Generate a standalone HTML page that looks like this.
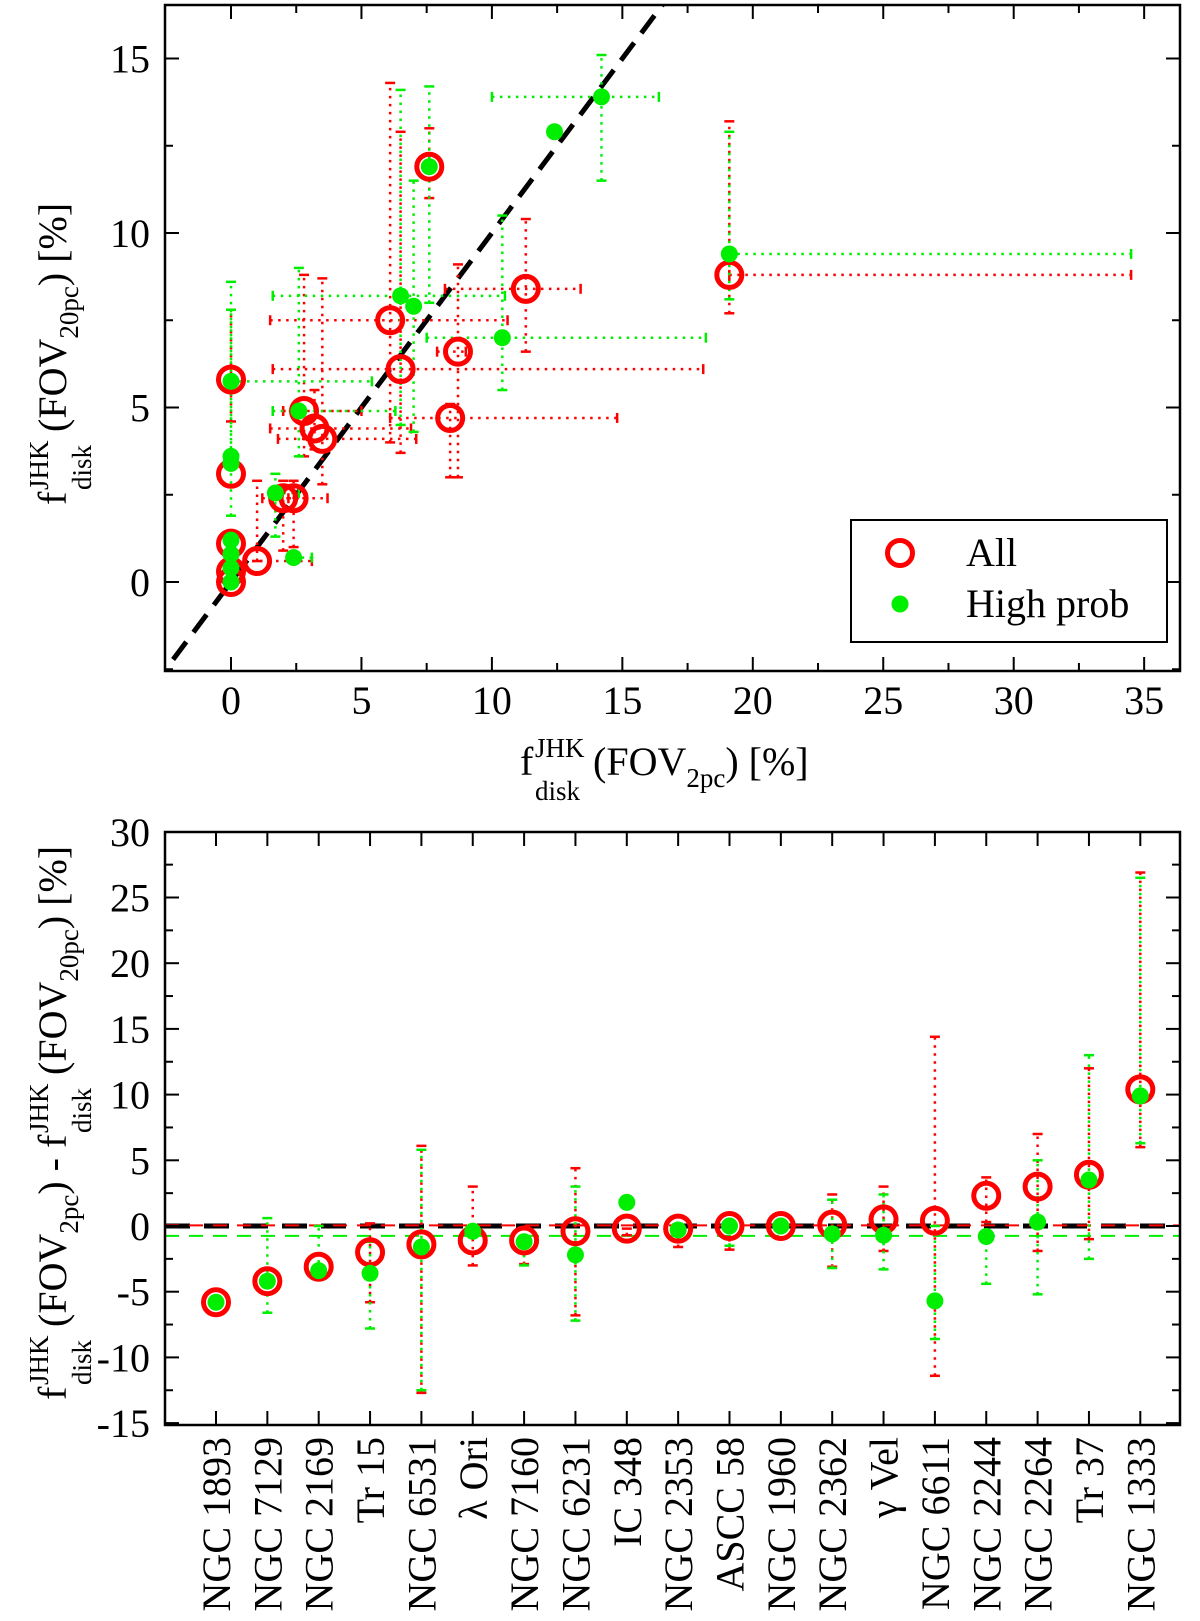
<!DOCTYPE html>
<html><head><meta charset="utf-8">
<style>
html,body{margin:0;padding:0;background:#fff;}
svg{display:block;font-family:"Liberation Serif",serif;}
</style></head>
<body>
<svg id="chart" width="1200" height="1621" viewBox="0 0 1200 1621" xmlns="http://www.w3.org/2000/svg">
  <g id="topPanel"></g>
  <g id="botPanel"></g>

  <g fill="#000">
    <text x="520" y="775" font-size="40">f</text>
    <text x="535" y="757" font-size="27">JHK</text>
    <text x="535" y="800" font-size="27">disk</text>
    <text x="593" y="775" font-size="40">(FOV<tspan font-size="27" dy="12">2pc</tspan><tspan dy="-12">) [%]</tspan></text>
  </g>
  <g transform="translate(66,338) rotate(-90)" fill="#000">
    <text x="-167" y="0" font-size="40">f</text>
    <text x="-152" y="-18" font-size="27">JHK</text>
    <text x="-152" y="25" font-size="27">disk</text>
    <text x="-94" y="0" font-size="40">(FOV<tspan font-size="27" dy="12">20pc</tspan><tspan dy="-12">) [%]</tspan></text>
  </g>
  <g transform="translate(66,1123) rotate(-90)" fill="#000">
    <text x="-277" y="0" font-size="40">f</text>
    <text x="-262" y="-18" font-size="27">JHK</text>
    <text x="-262" y="25" font-size="27">disk</text>
    <text x="-204" y="0" font-size="40">(FOV<tspan font-size="27" dy="12">2pc</tspan><tspan dy="-12">) - f</tspan></text>
    <text x="-10" y="-18" font-size="27">JHK</text>
    <text x="-10" y="25" font-size="27">disk</text>
    <text x="48" y="0" font-size="40">(FOV<tspan font-size="27" dy="12">20pc</tspan><tspan dy="-12">) [%]</tspan></text>
  </g>

  <g>
    <rect x="851" y="520" width="316" height="122" fill="#fff" stroke="#000" stroke-width="2"/>
    <g>
      <circle cx="900" cy="553" r="12.5" fill="none" stroke="#ff0000" stroke-width="5"/>
      <text x="966" y="566" font-size="40">All</text>
    </g>
    <g>
      <circle cx="900" cy="604" r="8.5" fill="#00ee00"/>
      <text x="966" y="617" font-size="40">High prob</text>
    </g>
  </g>
</svg>
<script>
const allX   = [0, 0, 0, 0, 0, 1.0, 2.0, 2.4, 2.8, 3.2, 3.5, 6.5, 8.7, 8.4, 6.1, 7.6, 11.3, 19.1];
const allY   = [0, 0.3, 1.1, 3.1, 5.8, 0.6, 2.4, 2.4, 4.9, 4.4, 4.1, 6.1, 6.6, 4.7, 7.5, 11.9, 8.4, 8.8];
const allXlo = [0, 0, 0, 0, 0, 0.5, 1.2, 2.2, 2.0, 1.5, 1.8, 1.6, 7.9, 6.1, 1.5, 7.6, 8.2, 19.1];
const allXhi = [0, 0, 0, 0, 0, 3.1, 2.9, 3.7, 5.0, 6.9, 7.1, 18.1, 9.0, 14.8, 10.6, 7.6, 13.4, 34.5];
const allYlo = [0, 0.3, 1.1, 3.1, 4.6, 0.6, 0.9, 1.0, 3.6, 3.8, 2.8, 3.7, 3.0, 3.0, 4.0, 11.0, 6.6, 7.7];
const allYhi = [0, 0.3, 1.1, 3.1, 7.8, 2.9, 2.9, 2.9, 8.8, 5.5, 8.7, 12.9, 9.1, 5.1, 14.3, 13.0, 10.4, 13.2];

const hpX   = [0, 0, 0, 0, 0, 0, 0, 1.7, 2.4, 2.6, 6.5, 7.0, 7.6, 10.4, 12.4, 14.2, 19.1];
const hpY   = [0, 0.4, 0.8, 1.2, 3.4, 3.6, 5.75, 2.55, 0.7, 4.9, 8.2, 7.9, 11.9, 7.0, 12.9, 13.9, 9.4];
const hpXlo = [0, 0, 0, 0, 0, 0, 0, 1.7, 2.4, 1.6, 1.6, 7.0, 7.6, 7.5, 12.4, 10.0, 19.1];
const hpXhi = [0, 0, 0, 0, 0, 0, 5.4, 2.6, 3.1, 6.3, 10.5, 7.0, 7.6, 18.2, 12.4, 16.4, 34.5];
const hpYlo = [0, 0.4, 0.8, 1.2, 1.9, 3.6, 3.6, 1.3, 0.7, 3.6, 4.5, 4.3, 8.0, 5.5, 12.9, 11.5, 8.1];
const hpYhi = [0, 0.4, 0.8, 1.2, 7.8, 3.6, 8.6, 3.1, 0.7, 9.0, 14.1, 11.5, 14.2, 10.5, 12.9, 15.1, 12.9];

const topXTicks = [0, 5, 10, 15, 20, 25, 30, 35];
const topYTicks = [0, 5, 10, 15];

const clusters = ["NGC 1893","NGC 7129","NGC 2169","Tr 15","NGC 6531","λ Ori","NGC 7160","NGC 6231","IC 348","NGC 2353","ASCC 58","NGC 1960","NGC 2362","γ Vel","NGC 6611","NGC 2244","NGC 2264","Tr 37","NGC 1333"];
const redDiff   = [-5.8, -4.2, -3.1, -2.0, -1.4, -1.1, -1.1, -0.4, -0.2, -0.2, 0.0, 0.0, 0.1, 0.5, 0.4, 2.3, 3.0, 3.9, 10.4];
const redLo     = [-5.8, -4.2, -3.1, -5.8, -12.7, -3.0, -2.9, -6.8, -0.7, -1.6, -1.8, 0.0, -3.1, -1.9, -11.4, 0.3, -1.9, -1.0, 6.0];
const redHi     = [-5.8, -4.2, -3.1, 0.2, 6.1, 3.0, -1.1, 4.4, -0.2, -0.2, 0.0, 0.0, 2.4, 3.0, 14.4, 3.7, 7.0, 12.0, 26.9];
const greenDiff = [-5.8, -4.2, -3.4, -3.6, -1.6, -0.4, -1.2, -2.2, 1.8, -0.3, 0.0, 0.0, -0.6, -0.7, -5.7, -0.8, 0.3, 3.5, 9.9];
const greenLo   = [-5.8, -6.6, -3.4, -7.8, -12.5, -0.4, -3.0, -7.2, 1.8, -1.2, -1.5, 0.0, -3.2, -3.3, -8.6, -4.4, -5.2, -2.5, 6.3];
const greenHi   = [-5.8, 0.6, 0.0, -1.2, 5.8, -0.4, -1.2, 3.0, 1.8, -0.3, 0.0, 0.0, 2.0, 2.4, 0.0, -0.8, 5.0, 13.0, 26.5];
const redMean   = [0.05];
const greenMean = [-0.75];
const botYTicks = [-15, -10, -5, 0, 5, 10, 15, 20, 25, 30];

const NS = "http://www.w3.org/2000/svg";
const RED = "#ff0000", GREEN = "#00ee00";
function mk(parent, tag, attrs) {
  const el = document.createElementNS(NS, tag);
  for (const k in attrs) el.setAttribute(k, attrs[k]);
  parent.appendChild(el);
  return el;
}

const T = {l:165, r:1180, t:5, b:671};
function X(v){ return 231 + 26.09 * v; }
function Y(v){ return 582 - 34.9 * v; }
const topG = document.getElementById('topPanel');

const defs = mk(document.getElementById('chart'), 'defs', {});
const cp1 = mk(defs, 'clipPath', {id:'clipTop'});
mk(cp1, 'rect', {x:T.l, y:T.t, width:T.r-T.l, height:T.b-T.t});
const cp2 = mk(defs, 'clipPath', {id:'clipBot'});
mk(cp2, 'rect', {x:165, y:832, width:1015, height:593});

const topPlot = mk(topG, 'g', {'clip-path':'url(#clipTop)'});

const diag = mk(topPlot, 'line', {x1:X(-3), y1:Y(-3), x2:X(17), y2:Y(17), stroke:'#000', 'stroke-width':5, 'stroke-dasharray':'22,12'});



function errV(g, x, lo, hi, col, Y_, cap) {
  if (lo === hi) return;
  const l = mk(g, 'line', {x1:x, y1:Y_(lo), x2:x, y2:Y_(hi), stroke:col, 'stroke-width':2.5, 'stroke-dasharray':'2.5,5.5'});
  
  
  [lo, hi].forEach(v => {
    const c = mk(g, 'line', {x1:x-cap, y1:Y_(v), x2:x+cap, y2:Y_(v), stroke:col, 'stroke-width':2.5});
    
    
  });
}
function errH(g, y, lo, hi, col, cap) {
  if (lo === hi) return;
  const l = mk(g, 'line', {x1:X(lo), y1:y, x2:X(hi), y2:y, stroke:col, 'stroke-width':2.5, 'stroke-dasharray':'2.5,5.5'});
  
  
  [lo, hi].forEach(v => {
    const c = mk(g, 'line', {x1:X(v), y1:y-cap, x2:X(v), y2:y+cap, stroke:col, 'stroke-width':2.5});
    
    
  });
}

for (let i = 0; i < allX.length; i++) {
  errV(topPlot, X(allX[i]), allYlo[i], allYhi[i], RED, Y, 5);
  errH(topPlot, Y(allY[i]), allXlo[i], allXhi[i], RED, 5);
}
for (let i = 0; i < hpX.length; i++) {
  errV(topPlot, X(hpX[i]), hpYlo[i], hpYhi[i], GREEN, Y, 5);
  errH(topPlot, Y(hpY[i]), hpXlo[i], hpXhi[i], GREEN, 5);
}
for (let i = 0; i < allX.length; i++) {
  const c = mk(topPlot, 'circle', {cx:X(allX[i]), cy:Y(allY[i]), r:12.5, fill:'none', stroke:RED, 'stroke-width':5});
  
  
}
for (let i = 0; i < hpX.length; i++) {
  const c = mk(topPlot, 'circle', {cx:X(hpX[i]), cy:Y(hpY[i]), r:8.5, fill:GREEN});
  
  
}

const tf = mk(topG, 'rect', {x:T.l, y:T.t, width:T.r-T.l, height:T.b-T.t, fill:'none', stroke:'#000', 'stroke-width':2.5});


for (let v = -2.5; v <= 36.4; v += 2.5) {
  const major = Math.abs(v % 5) < 1e-6;
  const len = major ? 14 : 8;
  const x = X(v);
  if (x < T.l + 1 || x > T.r - 1) continue;
  const t1 = mk(topG, 'line', {x1:x, y1:T.b, x2:x, y2:T.b-len, stroke:'#000', 'stroke-width':2});
  
  
  const t2 = mk(topG, 'line', {x1:x, y1:T.t, x2:x, y2:T.t+len, stroke:'#000', 'stroke-width':2});
  
  
}
for (let v = -2.5; v <= 16.5; v += 2.5) {
  const major = Math.abs(v % 5) < 1e-6;
  const len = major ? 14 : 8;
  const y = Y(v);
  if (y < T.t + 1 || y > T.b - 1) continue;
  const t1 = mk(topG, 'line', {x1:T.l, y1:y, x2:T.l+len, y2:y, stroke:'#000', 'stroke-width':2});
  
  
  const t2 = mk(topG, 'line', {x1:T.r, y1:y, x2:T.r-len, y2:y, stroke:'#000', 'stroke-width':2});
  
  
}
topXTicks.forEach(v => {
  const t = mk(topG, 'text', {x:X(v), y:714, 'font-size':40, 'text-anchor':'middle'});
  t.textContent = v;
  
  
});
topYTicks.forEach(v => {
  const t = mk(topG, 'text', {x:150, y:Y(v)+14, 'font-size':40, 'text-anchor':'end'});
  t.textContent = v;
  
  
});

const B = {l:165, r:1180, t:832, b:1425};
function XC(i){ return 216 + 51.35 * i; }
function YB(v){ return 1226 - 13.14 * v; }
const botG = document.getElementById('botPanel');
const botPlot = mk(botG, 'g', {'clip-path':'url(#clipBot)'});

const zl = mk(botPlot, 'line', {x1:B.l, y1:YB(0), x2:B.r, y2:YB(0), stroke:'#000', 'stroke-width':5, 'stroke-dasharray':'25,14'});


const rl = mk(botPlot, 'line', {x1:B.l, y1:YB(redMean[0]), x2:B.r, y2:YB(redMean[0]), stroke:RED, 'stroke-width':2, 'stroke-dasharray':'14,10'});


const gl = mk(botPlot, 'line', {x1:B.l, y1:YB(greenMean[0]), x2:B.r, y2:YB(greenMean[0]), stroke:GREEN, 'stroke-width':2, 'stroke-dasharray':'14,10'});



for (let i = 0; i < clusters.length; i++) {
  errV(botPlot, XC(i), redLo[i], redHi[i], RED, YB, 5);
  errV(botPlot, XC(i), greenLo[i], greenHi[i], GREEN, YB, 5);
}
for (let i = 0; i < clusters.length; i++) {
  const c = mk(botPlot, 'circle', {cx:XC(i), cy:YB(redDiff[i]), r:12.5, fill:'none', stroke:RED, 'stroke-width':5});
  
  
}
for (let i = 0; i < clusters.length; i++) {
  const c = mk(botPlot, 'circle', {cx:XC(i), cy:YB(greenDiff[i]), r:8.5, fill:GREEN});
  
  
}

const bf = mk(botG, 'rect', {x:B.l, y:B.t, width:B.r-B.l, height:B.b-B.t, fill:'none', stroke:'#000', 'stroke-width':2.5});


for (let i = 0; i < clusters.length; i++) {
  const x = XC(i);
  const t1 = mk(botG, 'line', {x1:x, y1:B.b, x2:x, y2:B.b-14, stroke:'#000', 'stroke-width':2});
  
  
  const t2 = mk(botG, 'line', {x1:x, y1:B.t, x2:x, y2:B.t+14, stroke:'#000', 'stroke-width':2});
  
  
  const lab = mk(botG, 'text', {transform:'translate(' + (x+14) + ',1437) rotate(-90)', 'font-size':40, 'text-anchor':'end'});
  lab.textContent = clusters[i];
  
  
}
for (let v = -15; v <= 30; v += 2.5) {
  const major = Math.abs(v % 5) < 1e-6;
  const len = major ? 14 : 8;
  const y = YB(v);
  if (y < B.t + 1 || y > B.b - 1) continue;
  const t1 = mk(botG, 'line', {x1:B.l, y1:y, x2:B.l+len, y2:y, stroke:'#000', 'stroke-width':2});
  
  
  const t2 = mk(botG, 'line', {x1:B.r, y1:y, x2:B.r-len, y2:y, stroke:'#000', 'stroke-width':2});
  
  
}
botYTicks.forEach(v => {
  const t = mk(botG, 'text', {x:150, y:YB(v)+14, 'font-size':40, 'text-anchor':'end'});
  t.textContent = v;
  
  
});
</script>
</body></html>
